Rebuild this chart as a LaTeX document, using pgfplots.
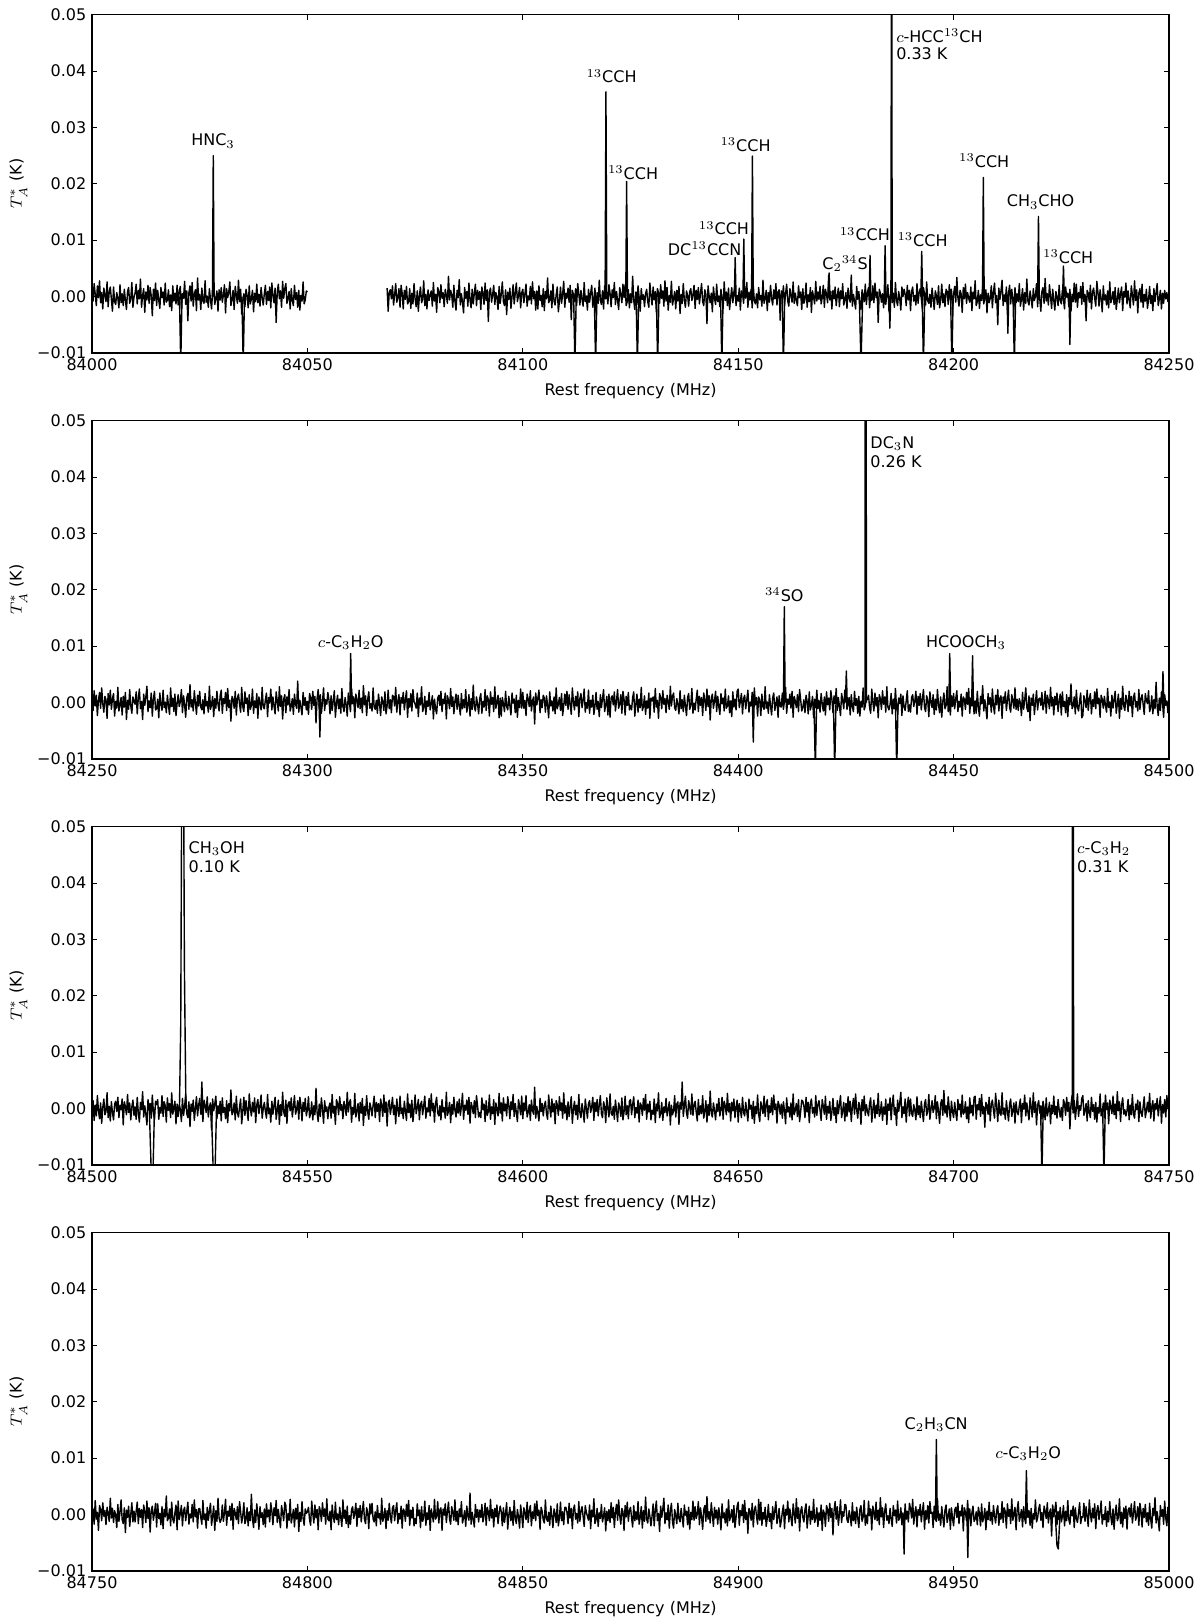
\documentclass[border=0pt]{standalone}
\usepackage{pgfplots}
\pgfplotsset{compat=1.18}
\usepackage{fontspec}
\setmainfont{DejaVu Sans}
\tikzset{
  lab/.style={inner sep=0pt, anchor=base},
  labw/.style={inner sep=0pt, anchor=base west},
}
\pgfplotsset{
  spec/.style={
    scale only axis, width=538.5pt, height=169.25pt,
    anchor=south west,
    ymin=-10, ymax=50,
    ytick={-10,0,10,20,30,40,50},
    yticklabels={−0.01,0.00,0.01,0.02,0.03,0.04,0.05},
    scaled x ticks=false, scaled y ticks=false,
    tick align=inside,
    major tick length=2.7pt,
    every tick/.style={black, line width=0.4pt},
    axis line style={line width=0.75pt},
    xlabel={Rest frequency (MHz)},
    ylabel={$T_A^{*}$ (K)},
    every axis x label/.style={at={(axis description cs:0.5,0)}, anchor=base, yshift=-21.3pt},
    every axis y label/.style={at={(axis description cs:-0.0684,0.5)}, anchor=center, rotate=90},
    unbounded coords=jump,
    clip=true,
  },
  spec line/.style={black, line width=0.7pt, mark=none, line join=round},
}
\begin{document}
\fontsize{8}{9.6}\selectfont
\begin{tikzpicture}
\path[use as bounding box] (0,0) rectangle (600pt,811pt);
% ---------------- Panel 1 ----------------
\begin{axis}[spec, at={(46pt,634.5pt)}, xmin=84000, xmax=84250,
  xtick={84000,84050,84100,84150,84200,84250},
  xticklabels={84000,84050,84100,84150,84200,84250}]
\addplot[spec line] table[header=false, x expr=84000+0.25*\coordindex, y index=0] {
1.2
-0.8
2.3
0.4
-1.6
1.9
-0.2
2.8
-1.1
0.7
-2.2
1.5
0.3
-0.9
2.6
-1.8
0.9
1.7
-0.5
-2.6
1.7
-0.9
-1.4
0.7
-0.3
-2.0
2.1
-1.1
0.5
-1.6
1.3
-0.6
-2.3
0.9
1.6
-1.2
-0.4
2.5
-1.9
-0.1
0.6
2.2
-1.3
1.1
-0.4
3.1
-1.9
0.2
1.4
-2.8
0.8
-0.6
2.0
-1.2
1.6
0.1
-3.4
1.3
-0.7
2.4
-1.6
1.1
-0.7
-2.1
1.6
-0.2
0.8
-1.5
2.4
-1.0
-0.6
1.2
-1.8
0.3
-2.5
1.9
-0.8
0.6
-1.3
2.0
-1.5
0.9
1.8
-2.1
0.5
-0.3
2.7
-1.4
1.0
-4.3
0.7
1.9
-0.8
2.5
-1.7
0.4
1.2
-2.5
3.3
-0.6
0.4
-2.3
1.5
-0.8
-1.2
2.8
-1.0
0.1
-1.9
1.4
-0.5
-2.2
0.8
1.7
-1.4
-0.3
1.0
-2.6
1.2
-0.6
1.6
-1.0
0.3
2.1
-2.9
1.4
-0.2
0.8
2.6
-1.6
-0.5
1.1
-2.3
1.8
0.2
-1.2
2.9
-0.9
1.3
-3.1
-0.8
0.5
-1.8
1.3
0.2
-2.0
1.9
-1.3
-0.4
1.1
-2.7
0.6
-0.9
2.2
-1.1
0.4
-1.7
1.6
-0.2
-1.5
0.5
2.0
-1.4
0.9
-0.7
1.7
-2.0
2.4
0.1
-1.1
1.5
-4.6
0.8
2.2
-0.4
1.0
-1.9
2.7
-0.3
1.4
2.3
-1.2
-0.3
0.9
-2.2
1.4
-0.7
-1.6
2.0
-0.5
0.7
-1.9
1.1
-2.4
0.2
-0.8
2.6
-1.3
-0.6
1.0
0.8
};
\addplot[spec line] table[header=false, x expr=84068.5+0.25*\coordindex, y index=0] {
1.5
-2.6
0.8
1.2
-0.4
1.9
-1.5
0.3
2.3
-1.0
-0.2
1.4
-1.9
2.0
0.6
-2.2
1.1
-0.5
1.8
-1.3
-0.9
1.4
-2.1
0.6
-1.3
2.3
-0.4
-1.8
1.0
-2.6
0.2
1.7
-1.1
-0.5
2.8
-1.6
0.4
-2.2
1.2
-0.7
0.3
1.0
-1.7
2.5
-0.8
0.4
-2.8
1.6
0.9
-1.1
2.1
-0.3
0.7
-1.8
1.3
0.2
-1.2
3.6
-0.6
1.1
0.3
-1.9
2.0
-0.8
-2.4
1.1
-0.2
3.0
-1.5
0.5
-1.0
-2.9
1.6
-0.3
0.9
-1.7
2.4
-0.6
-2.0
1.3
-1.3
0.6
2.2
-1.6
1.1
-0.5
0.9
-2.3
1.7
0.5
-1.4
2.4
-0.7
1.2
-4.4
0.8
1.5
-1.0
0.3
2.0
-1.4
0.7
-0.1
-2.3
1.8
-1.2
0.4
2.6
-0.9
-1.6
1.2
-3.2
0.8
-0.5
1.5
-2.1
0.0
2.1
-1.3
0.6
2.4
-0.9
0.2
1.6
-2.0
0.7
1.3
-1.1
0.5
2.2
-1.7
0.1
-0.6
1.8
-1.3
2.6
-0.4
0.9
-2.4
1.0
-2.2
1.9
-0.7
0.2
-1.8
1.4
-2.5
0.9
-0.4
3.3
-1.1
-0.6
1.0
-2.0
2.2
-0.8
-1.5
0.3
1.7
-2.7
-0.8
1.7
-1.2
0.4
2.7
-1.9
0.6
-0.3
1.5
-1.0
2.0
-4.1
1.1
0.3
-0.9
1.4
-1.6
2.3
0.5
-1.5
1.1
-0.5
-1.7
2.5
-0.9
0.1
-2.4
1.3
-1.0
0.6
2.0
-1.9
-0.3
1.5
-2.8
0.7
-1.2
2.9
-0.6
-1.4
1.0
-2.2
1.9
-0.4
0.8
-1.3
2.1
0.6
-1.8
1.2
-0.2
2.5
-1.4
0.9
-0.7
-2.3
1.6
0.4
-1.1
2.2
-0.2
2.1
-1.6
-0.9
1.2
-2.0
0.5
-1.1
3.6
-0.7
-2.3
0.8
-1.4
1.9
-0.1
-2.6
1.4
-0.5
0.3
-1.8
0.5
1.3
-0.9
-1.9
2.4
0.2
-1.5
1.7
-0.6
0.9
-2.7
1.4
0.7
-1.2
2.1
-0.3
1.0
-1.7
2.8
-0.8
1.6
-2.4
0.2
-1.0
2.7
-1.5
-0.4
0.9
-2.2
1.1
-0.8
1.8
-3.0
0.4
-1.2
2.3
-0.6
-1.9
1.0
0.2
-1.7
0.9
1.4
-0.7
0.3
2.0
-2.1
1.1
-0.5
1.6
-1.3
0.6
2.3
-0.9
-1.6
1.2
0.4
-4.8
1.9
0.1
-1.1
0.6
-2.7
1.7
-0.3
-1.4
2.2
-0.9
0.1
-1.8
1.3
-0.5
-2.1
2.6
-0.7
0.8
-1.6
1.5
-2.3
-0.2
1.6
-1.1
0.7
2.1
-1.6
0.2
-0.8
1.5
-2.4
1.0
0.6
-1.2
1.8
-0.3
2.5
-1.9
0.8
-0.6
1.3
-2.0
2.0
-0.8
-1.3
0.5
-2.0
1.6
-0.6
0.2
-1.7
2.9
-1.2
-0.4
1.1
-2.5
0.7
-1.0
2.0
-0.3
-1.5
1.2
-0.4
2.3
-1.5
0.8
1.2
-4.2
1.0
-0.1
1.9
-1.4
0.5
2.2
-0.8
-1.7
1.4
0.3
-1.0
2.6
-1.2
0.6
-0.7
-1.6
1.9
-0.2
0.8
-2.3
1.4
-1.2
-0.5
2.4
-1.9
0.3
-0.9
1.6
-2.8
1.0
-0.1
-1.3
2.7
-0.8
0.8
-0.5
1.8
-1.3
-0.2
2.0
-1.9
1.3
0.4
-1.1
3.8
-0.6
0.9
-2.2
1.1
-0.4
1.7
-1.6
0.2
1.5
-1.8
1.0
-0.4
2.3
-1.5
-0.6
0.7
-2.1
1.5
-0.3
-1.0
3.8
-1.7
0.4
-0.8
-2.2
1.8
-0.5
0.9
-1.3
-2.3
1.2
0.3
-0.9
2.2
-1.4
0.7
1.6
-2.0
0.5
-0.7
1.9
-1.1
2.4
-0.2
0.8
-4.6
1.3
0.6
-1.0
0.5
-2.0
1.2
-1.4
0.3
2.1
-2.6
-0.1
1.3
-1.1
0.6
-1.9
2.5
-0.7
-1.6
0.9
-0.4
-2.4
1.7
0.0
1.3
0.4
-1.6
2.0
-0.6
1.1
-2.5
0.9
1.7
-0.8
0.2
-1.5
2.3
-1.2
0.7
1.4
-0.3
-2.1
1.6
0.4
-1.5
2.6
-0.8
-1.2
0.4
-1.9
1.5
-0.3
-2.3
1.0
0.2
-1.4
1.9
-2.0
-0.6
2.2
-1.1
0.5
-1.8
1.3
0.9
-1.4
2.1
-0.6
1.3
-2.3
0.4
1.8
-1.0
3.4
-0.2
-1.7
1.1
0.5
-2.8
1.6
-0.4
2.2
-1.2
0.7
-0.3
-1.0
1.7
-2.5
0.8
-0.4
2.8
-1.6
-0.9
1.1
-2.1
0.3
-0.7
1.8
-1.3
-0.2
1.2
-2.9
0.6
-1.1
-0.3
1.9
-2.0
0.8
2.4
-1.1
0.2
-5.0
1.5
-0.5
1.0
2.9
-1.6
0.3
-0.9
1.7
-2.4
0.6
2.0
-1.3
1.3
-0.6
-2.2
1.6
-1.1
0.5
-0.9
2.3
-1.7
-0.5
1.4
-2.4
0.7
-1.2
3.1
-0.8
-1.5
1.0
-0.3
-2.0
1.4
-0.7
0.1
2.3
-1.8
1.2
-0.4
-2.6
0.9
1.6
-1.2
3.2
-0.8
0.5
-1.5
2.1
0.0
-2.1
1.3
-0.6
-2.4
0.9
-0.2
-1.6
2.0
-0.7
-1.3
1.1
-0.5
-2.2
1.7
-0.1
0.6
-1.8
1.3
-2.6
0.4
-0.9
2.4
-1.0
2.2
-1.9
0.7
-0.2
1.8
-1.4
2.5
-0.9
0.4
-4.3
1.1
0.6
-1.0
2.0
-2.2
0.8
1.5
-0.3
-1.7
2.7
0.8
-1.7
1.2
-0.4
-2.7
1.9
-0.6
0.3
-1.5
1.0
-2.0
2.6
-1.1
-0.3
0.9
-1.4
1.6
-2.3
-0.5
1.5
-1.1
0.5
1.7
-2.5
0.9
-0.1
2.4
-1.3
1.0
-0.6
-2.0
1.9
0.3
-1.5
2.8
-0.7
1.2
-2.9
0.6
1.4
-1.0
2.2
-1.9
0.4
-0.8
1.3
-2.1
-0.6
1.8
-1.2
0.2
-2.5
1.4
-0.9
0.7
2.3
-1.6
-0.4
1.1
-2.2
0.6
-1.2
1.1
-0.4
0.7
-0.9
0.3
};
\addplot[spec line] coordinates {
(84020.3,0)(84020.6,-12)(84020.9,0)(84020.6,nan)
(84027.95,0)(84028.15,25.0)(84028.35,0)(84028.15,nan)
(84034.8,0)(84035.1,-12)(84035.4,0)(84035.1,nan)
(84111.8,0)(84112.1,-12)(84112.4,0)(84112.1,nan)
(84116.6,0)(84116.9,-12)(84117.2,0)(84116.9,nan)
(84119.1,0)(84119.3,36.3)(84119.5,0)(84119.3,nan)
(84123.9,0)(84124.1,20.4)(84124.3,0)(84124.1,nan)
(84126.3,0)(84126.6,-12)(84126.9,0)(84126.6,nan)
(84131.0,0)(84131.3,-12)(84131.6,0)(84131.3,nan)
(84145.9,0)(84146.2,-12)(84146.5,0)(84146.2,nan)
(84149.1,0)(84149.3,6.9)(84149.5,0)(84149.3,nan)
(84151.1,0)(84151.3,10.2)(84151.5,0)(84151.3,nan)
(84153.1,0)(84153.3,24.9)(84153.5,0)(84153.3,nan)
(84160.2,0)(84160.5,-12)(84160.8,0)(84160.5,nan)
(84170.9,0)(84171.1,4.2)(84171.3,0)(84171.1,nan)
(84178.1,0)(84178.5,-12)(84178.9,0)(84178.5,nan)
(84180.4,0)(84180.6,7.3)(84180.8,0)(84180.6,nan)
(84183.9,0)(84184.1,9.0)(84184.3,0)(84184.1,nan)
(84185.0,0)(84185.2,-5.6)(84185.4,0)(84185.2,nan)
(84185.45,0)(84185.6,80)(84185.75,0)(84185.6,nan)
(84192.4,0)(84192.6,8.0)(84192.8,0)(84192.6,nan)
(84192.7,0)(84193.0,-12)(84193.3,0)(84193.0,nan)
(84199.3,0)(84199.6,-12)(84199.9,0)(84199.6,nan)
(84206.7,0)(84206.9,21.1)(84207.1,0)(84206.9,nan)
(84212.4,0)(84212.6,-6.5)(84212.8,0)(84212.6,nan)
(84213.8,0)(84214.1,-12)(84214.4,0)(84214.1,nan)
(84219.5,0)(84219.7,14.2)(84219.9,0)(84219.7,nan)
(84225.3,0)(84225.5,5.4)(84225.7,0)(84225.5,nan)
(84226.8,0)(84227.0,-8.5)(84227.2,0)(84227.0,nan)
};
\node[lab] at (axis cs:84028.1,26.7) {HNC$_3$};
\node[lab] at (axis cs:84120.6,37.9) {$^{13}$CCH};
\node[lab] at (axis cs:84125.6,20.8) {$^{13}$CCH};
\node[lab] at (axis cs:84146.7,10.95) {$^{13}$CCH};
\node[lab] at (axis cs:84142.2,7.36) {DC$^{13}$CCN};
\node[lab] at (axis cs:84151.7,25.8) {$^{13}$CCH};
\node[lab] at (axis cs:84174.8,4.87) {C$_2$$^{34}$S};
\node[lab] at (axis cs:84179.4,9.89) {$^{13}$CCH};
\node[labw] at (axis cs:84186.6,45.1) {$c$-HCC$^{13}$CH};
\node[labw] at (axis cs:84186.6,42.1) {0.33 K};
\node[lab] at (axis cs:84192.8,8.88) {$^{13}$CCH};
\node[lab] at (axis cs:84207.1,22.9) {$^{13}$CCH};
\node[lab] at (axis cs:84220.2,15.9) {CH$_3$CHO};
\node[lab] at (axis cs:84226.6,5.94) {$^{13}$CCH};
\end{axis}
% ---------------- Panel 2 ----------------
\begin{axis}[spec, at={(46pt,431.5pt)}, xmin=84250, xmax=84500,
  xtick={84250,84300,84350,84400,84450,84500},
  xticklabels={84250,84300,84350,84400,84450,84500}]
\addplot[spec line] table[header=false, x expr=84250+0.25*\coordindex, y index=0] {
0.9
-1.4
2.1
-0.6
1.3
-2.3
0.4
1.8
-1.0
2.6
-0.2
-1.7
1.1
0.5
-2.8
1.6
-0.4
2.2
-1.2
0.7
1.6
-2.4
0.2
-1.0
2.7
-1.5
-0.4
0.9
-2.2
1.1
-0.8
1.8
-3.0
0.4
-1.2
2.3
-0.6
-1.9
1.0
0.2
-0.3
1.9
-2.0
0.8
2.4
-1.1
0.2
-3.0
1.5
-0.5
1.0
2.9
-1.6
0.3
-0.9
1.7
-2.4
0.6
2.0
-1.3
-1.1
0.6
-2.7
1.7
-0.3
-1.4
2.2
-0.9
0.1
-1.8
1.3
-0.5
-2.1
2.6
-0.7
0.8
-1.6
1.5
-2.3
-0.2
1.4
-0.7
0.1
2.3
-1.8
1.2
-0.4
-2.6
0.9
1.6
-1.2
3.2
-0.8
0.5
-1.5
2.1
0.0
-2.1
1.3
-0.6
2.0
-0.8
-1.3
0.5
-2.0
1.6
-0.6
0.2
-1.7
2.9
-1.2
-0.4
1.1
-2.5
0.7
-1.0
2.0
-0.3
-1.5
1.2
2.2
-1.9
0.7
-0.2
1.8
-1.4
2.5
-0.9
0.4
-3.3
1.1
0.6
-1.0
2.0
-2.2
0.8
1.5
-0.3
-1.7
2.7
-0.7
-1.6
1.9
-0.2
0.8
-2.3
1.4
-1.2
-0.5
2.4
-1.9
0.3
-0.9
1.6
-2.8
1.0
-0.1
-1.3
2.7
-0.8
-1.1
0.5
1.7
-2.5
0.9
-0.1
2.4
-1.3
1.0
-0.6
-2.0
1.9
0.3
-1.5
2.8
-0.7
1.2
-2.9
0.6
1.4
-1.8
1.0
-0.4
2.3
-1.5
-0.6
0.7
-2.1
1.5
-0.3
-1.0
3.8
-1.7
0.4
-0.8
-2.2
1.8
-0.5
0.9
-1.3
0.2
-2.1
1.6
0.9
-1.2
2.0
-0.5
1.1
-3.6
0.7
2.3
-0.8
1.4
-1.9
0.1
2.6
-1.4
0.5
-0.3
1.8
0.5
-2.0
1.2
-1.4
0.3
2.1
-2.6
-0.1
1.3
-1.1
0.6
-1.9
2.5
-0.7
-1.6
0.9
-0.4
-2.4
1.7
0.0
-1.6
2.4
-0.2
1.0
-2.7
1.5
0.4
-0.9
2.2
-1.1
0.8
-1.8
3.0
-0.4
1.2
-2.3
0.6
1.9
-1.0
-0.2
-1.5
2.6
-0.8
-1.2
0.4
-1.9
1.5
-0.3
-2.3
1.0
0.2
-1.4
1.9
-2.0
-0.6
2.2
-1.1
0.5
-1.8
1.3
1.1
-0.6
2.7
-1.7
0.3
1.4
-2.2
0.9
-0.1
1.8
-1.3
0.5
2.1
-2.6
0.7
-0.8
1.6
-1.5
2.3
0.2
-0.3
-1.0
1.7
-2.5
0.8
-0.4
2.8
-1.6
-0.9
1.1
-2.1
0.3
-0.7
1.8
-1.3
-0.2
1.2
-2.9
0.6
-1.1
-2.0
0.8
1.3
-0.5
2.0
-1.6
0.6
-0.2
1.7
-2.9
1.2
0.4
-1.1
2.5
-0.7
1.0
-2.0
0.3
1.5
-1.2
1.3
-0.6
-2.2
1.6
-1.1
0.5
-0.9
2.3
-1.7
-0.5
1.4
-2.4
0.7
-1.2
3.1
-0.8
-1.5
1.0
-0.3
-2.0
0.7
1.6
-1.9
0.2
-0.8
2.3
-1.4
1.2
0.5
-2.4
1.9
-0.3
0.9
-1.6
2.8
-1.0
0.1
1.3
-2.7
0.8
-2.4
0.9
-0.2
-1.6
2.0
-0.7
-1.3
1.1
-0.5
-2.2
1.7
-0.1
0.6
-1.8
1.3
-2.6
0.4
-0.9
2.4
-1.0
1.8
-1.0
0.4
-2.3
1.5
0.6
-0.7
2.1
-1.5
0.3
1.0
-3.8
1.7
-0.4
0.8
2.2
-1.8
0.5
-0.9
1.3
0.8
-1.7
1.2
-0.4
-2.7
1.9
-0.6
0.3
-1.5
1.0
-2.0
2.6
-1.1
-0.3
0.9
-1.4
1.6
-2.3
-0.5
1.5
-0.5
2.0
-1.2
1.4
-0.3
-2.1
2.6
0.1
-1.3
1.1
-0.6
1.9
-2.5
0.7
1.6
-0.9
0.4
2.4
-1.7
0.0
-1.0
2.2
-1.9
0.4
-0.8
1.3
-2.1
-0.6
1.8
-1.2
0.2
-2.5
1.4
-0.9
0.7
2.3
-1.6
-0.4
1.1
-2.2
1.5
-2.6
0.8
1.2
-0.4
1.9
-1.5
0.3
2.3
-1.0
-0.2
1.4
-1.9
2.0
0.6
-2.2
1.1
-0.5
1.8
-1.3
-0.5
-1.3
0.9
1.9
-2.4
-0.2
1.5
-1.7
0.6
-0.9
2.7
-1.4
-0.7
1.2
-2.1
0.3
-1.0
1.7
-2.8
0.8
0.3
1.0
-1.7
2.5
-0.8
0.4
-2.8
1.6
0.9
-1.1
2.1
-0.3
0.7
-1.8
1.3
0.2
-1.2
2.9
-0.6
1.1
1.7
-0.9
-1.4
0.7
-0.3
-2.0
2.1
-1.1
0.5
-1.6
1.3
-0.6
-2.3
0.9
1.6
-1.2
-0.4
2.5
-1.9
-0.1
-1.3
0.6
2.2
-1.6
1.1
-0.5
0.9
-2.3
1.7
0.5
-1.4
2.4
-0.7
1.2
-3.1
0.8
1.5
-1.0
0.3
2.0
-1.6
1.1
-0.7
-2.1
1.6
-0.2
0.8
-1.5
2.4
-1.0
-0.6
1.2
-1.8
0.3
-2.5
1.9
-0.8
0.6
-1.3
2.0
2.4
-0.9
0.2
1.6
-2.0
0.7
1.3
-1.1
0.5
2.2
-1.7
0.1
-0.6
1.8
-1.3
2.6
-0.4
0.9
-2.4
1.0
0.4
-2.3
1.5
-0.8
-1.2
2.8
-1.0
0.1
-1.9
1.4
-0.5
-2.2
0.8
1.7
-1.4
-0.3
1.0
-2.6
1.2
-0.6
-0.8
1.7
-1.2
0.4
2.7
-1.9
0.6
-0.3
1.5
-1.0
2.0
-2.6
1.1
0.3
-0.9
1.4
-1.6
2.3
0.5
-1.5
-0.8
0.5
-1.8
1.3
0.2
-2.0
1.9
-1.3
-0.4
1.1
-2.7
0.6
-0.9
2.2
-1.1
0.4
-1.7
1.6
-0.2
-1.5
1.0
-2.2
1.9
-0.4
0.8
-1.3
2.1
0.6
-1.8
1.2
-0.2
2.5
-1.4
0.9
-0.7
-2.3
1.6
0.4
-1.1
2.2
2.3
-1.2
-0.3
0.9
-2.2
1.4
-0.7
-1.6
2.0
-0.5
0.7
-1.9
1.1
-2.4
0.2
-0.8
2.6
-1.3
-0.6
1.0
0.5
1.3
-0.9
-1.9
2.4
0.2
-1.5
1.7
-0.6
0.9
-2.7
1.4
0.7
-1.2
2.1
-0.3
1.0
-1.7
2.8
-0.8
-1.3
-0.4
1.6
-2.0
0.6
-1.1
2.5
-0.9
-1.7
0.8
-0.2
1.5
-2.3
1.2
-0.7
-1.4
0.3
2.1
-1.6
-0.4
-1.7
0.9
1.4
-0.7
0.3
2.0
-2.1
1.1
-0.5
1.6
-1.3
0.6
2.3
-0.9
-1.6
1.2
0.4
-2.5
1.9
0.1
-0.9
1.4
-2.1
0.6
-1.3
2.3
-0.4
-1.8
1.0
-2.6
0.2
1.7
-1.1
-0.5
2.8
-1.6
0.4
-2.2
1.2
-0.7
1.6
-1.1
0.7
2.1
-1.6
0.2
-0.8
1.5
-2.4
1.0
0.6
-1.2
1.8
-0.3
2.5
-1.9
0.8
-0.6
1.3
-2.0
0.3
-1.9
2.0
-0.8
-2.4
1.1
-0.2
3.0
-1.5
0.5
-1.0
-2.9
1.6
-0.3
0.9
-1.7
2.4
-0.6
-2.0
1.3
-0.4
2.3
-1.5
0.8
1.2
-2.8
1.0
-0.1
1.9
-1.4
0.5
2.2
-0.8
-1.7
1.4
0.3
-1.0
2.6
-1.2
0.6
-1.4
0.7
-0.1
-2.3
1.8
-1.2
0.4
2.6
-0.9
-1.6
1.2
-3.2
0.8
-0.5
1.5
-2.1
0.0
2.1
-1.3
0.6
0.8
-0.5
1.8
-1.3
-0.2
2.0
-1.9
1.3
0.4
-1.1
2.7
-0.6
0.9
-2.2
1.1
-0.4
1.7
-1.6
0.2
1.5
-2.2
1.9
-0.7
0.2
-1.8
1.4
-2.5
0.9
-0.4
3.3
-1.1
-0.6
1.0
-2.0
2.2
-0.8
-1.5
0.3
1.7
-2.7
-2.3
1.2
0.3
-0.9
2.2
-1.4
0.7
1.6
-2.0
0.5
-0.7
1.9
-1.1
2.4
-0.2
0.8
-2.6
1.3
0.6
-1.0
1.1
-0.5
-1.7
2.5
-0.9
0.1
-2.4
1.3
-1.0
0.6
2.0
-1.9
-0.3
1.5
-2.8
0.7
-1.2
2.9
-0.6
-1.4
1.3
0.4
-1.6
2.0
-0.6
1.1
-2.5
0.9
1.7
-0.8
0.2
-1.5
2.3
-1.2
0.7
1.4
-0.3
-2.1
1.6
0.4
-0.2
2.1
-1.6
-0.9
1.2
-2.0
0.5
-1.1
3.6
-0.7
-2.3
0.8
-1.4
1.9
-0.1
-2.6
1.4
-0.5
0.3
-1.8
0.9
};
\addplot[spec line] coordinates {
(84302.7,0)(84302.9,-6.1)(84303.1,0)(84302.9,nan)
(84309.85,0)(84310.05,8.7)(84310.25,0)(84310.05,nan)
(84403.3,0)(84403.5,-7.0)(84403.7,0)(84403.5,nan)
(84410.5,0)(84410.7,17.0)(84410.9,0)(84410.7,nan)
(84417.6,0)(84417.9,-12)(84418.2,0)(84417.9,nan)
(84422.1,0)(84422.4,-12)(84422.7,0)(84422.4,nan)
(84424.9,0)(84425.1,5.6)(84425.3,0)(84425.1,nan)
(84429.45,0)(84429.6,300)(84429.75,0)(84429.6,nan)
(84436.5,0)(84436.8,-12)(84437.1,0)(84436.8,nan)
(84448.9,0)(84449.1,8.7)(84449.3,0)(84449.1,nan)
(84454.2,0)(84454.4,8.3)(84454.6,0)(84454.4,nan)
(84498.4,0)(84498.6,5.5)(84498.8,0)(84498.6,nan)
};
\node[lab] at (axis cs:84310.05,9.8) {$c$-C$_3$H$_2$O};
\node[lab] at (axis cs:84410.7,17.9) {$^{34}$SO};
\node[labw] at (axis cs:84430.6,45.0) {DC$_3$N};
\node[labw] at (axis cs:84430.6,41.7) {0.26 K};
\node[lab] at (axis cs:84452.9,9.8) {HCOOCH$_3$};
\end{axis}
% ---------------- Panel 3 ----------------
\begin{axis}[spec, at={(46pt,228.5pt)}, xmin=84500, xmax=84750,
  xtick={84500,84550,84600,84650,84700,84750},
  xticklabels={84500,84550,84600,84650,84700,84750}]
\addplot[spec line] table[header=false, x expr=84500+0.25*\coordindex, y index=0] {
-0.9
1.4
-2.1
0.6
-1.3
2.3
-0.4
-1.8
1.0
-2.6
0.2
1.7
-1.1
-0.5
2.8
-1.6
0.4
-2.2
1.2
-0.7
-2.0
0.8
1.3
-0.5
2.0
-1.6
0.6
-0.2
1.7
-2.9
1.2
0.4
-1.1
2.5
-0.7
1.0
-2.0
0.3
1.5
-1.2
0.3
-1.9
2.0
-0.8
-2.4
1.1
-0.2
3.0
-1.5
0.5
-1.0
-2.9
1.6
-0.3
0.9
-1.7
2.4
-0.6
-2.0
1.3
0.7
1.6
-1.9
0.2
-0.8
2.3
-1.4
1.2
0.5
-2.4
1.9
-0.3
0.9
-1.6
2.8
-1.0
0.1
1.3
-2.7
0.8
-1.4
0.7
-0.1
-2.3
1.8
-1.2
0.4
2.6
-0.9
-1.6
1.2
-3.2
0.8
-0.5
1.5
-2.1
0.0
2.1
-1.3
0.6
1.8
-1.0
0.4
-2.3
1.5
0.6
-0.7
2.1
-1.5
0.3
1.0
-3.8
1.7
-0.4
0.8
2.2
-1.8
0.5
-0.9
1.3
-2.2
1.9
-0.7
0.2
-1.8
1.4
-2.5
0.9
-0.4
3.3
-1.1
-0.6
1.0
-2.0
2.2
-0.8
-1.5
0.3
1.7
-2.7
-0.5
2.0
-1.2
1.4
-0.3
-2.1
2.6
0.1
-1.3
1.1
-0.6
1.9
-2.5
0.7
1.6
-0.9
0.4
2.4
-1.7
0.0
1.1
-0.5
-1.7
2.5
-0.9
0.1
-2.4
1.3
-1.0
0.6
2.0
-1.9
-0.3
1.5
-2.8
0.7
-1.2
2.9
-0.6
-1.4
1.5
-2.6
0.8
1.2
-0.4
1.9
-1.5
0.3
2.3
-1.0
-0.2
1.4
-1.9
2.0
0.6
-2.2
1.1
-0.5
1.8
-1.3
-0.2
2.1
-1.6
-0.9
1.2
-2.0
0.5
-1.1
3.6
-0.7
-2.3
0.8
-1.4
1.9
-0.1
-2.6
1.4
-0.5
0.3
-1.8
0.3
1.0
-1.7
2.5
-0.8
0.4
-2.8
1.6
0.9
-1.1
2.1
-0.3
0.7
-1.8
1.3
0.2
-1.2
2.9
-0.6
1.1
1.6
-2.4
0.2
-1.0
2.7
-1.5
-0.4
0.9
-2.2
1.1
-0.8
1.8
-3.0
0.4
-1.2
2.3
-0.6
-1.9
1.0
0.2
-1.3
0.6
2.2
-1.6
1.1
-0.5
0.9
-2.3
1.7
0.5
-1.4
2.4
-0.7
1.2
-3.1
0.8
1.5
-1.0
0.3
2.0
-1.1
0.6
-2.7
1.7
-0.3
-1.4
2.2
-0.9
0.1
-1.8
1.3
-0.5
-2.1
2.6
-0.7
0.8
-1.6
1.5
-2.3
-0.2
2.4
-0.9
0.2
1.6
-2.0
0.7
1.3
-1.1
0.5
2.2
-1.7
0.1
-0.6
1.8
-1.3
2.6
-0.4
0.9
-2.4
1.0
2.0
-0.8
-1.3
0.5
-2.0
1.6
-0.6
0.2
-1.7
2.9
-1.2
-0.4
1.1
-2.5
0.7
-1.0
2.0
-0.3
-1.5
1.2
-0.8
1.7
-1.2
0.4
2.7
-1.9
0.6
-0.3
1.5
-1.0
2.0
-2.6
1.1
0.3
-0.9
1.4
-1.6
2.3
0.5
-1.5
-0.7
-1.6
1.9
-0.2
0.8
-2.3
1.4
-1.2
-0.5
2.4
-1.9
0.3
-0.9
1.6
-2.8
1.0
-0.1
-1.3
2.7
-0.8
1.0
-2.2
1.9
-0.4
0.8
-1.3
2.1
0.6
-1.8
1.2
-0.2
2.5
-1.4
0.9
-0.7
-2.3
1.6
0.4
-1.1
2.2
-1.8
1.0
-0.4
2.3
-1.5
-0.6
0.7
-2.1
1.5
-0.3
-1.0
3.8
-1.7
0.4
-0.8
-2.2
1.8
-0.5
0.9
-1.3
0.5
1.3
-0.9
-1.9
2.4
0.2
-1.5
1.7
-0.6
0.9
-2.7
1.4
0.7
-1.2
2.1
-0.3
1.0
-1.7
2.8
-0.8
0.5
-2.0
1.2
-1.4
0.3
2.1
-2.6
-0.1
1.3
-1.1
0.6
-1.9
2.5
-0.7
-1.6
0.9
-0.4
-2.4
1.7
0.0
-1.7
0.9
1.4
-0.7
0.3
2.0
-2.1
1.1
-0.5
1.6
-1.3
0.6
2.3
-0.9
-1.6
1.2
0.4
-2.5
1.9
0.1
-1.5
2.6
-0.8
-1.2
0.4
-1.9
1.5
-0.3
-2.3
1.0
0.2
-1.4
1.9
-2.0
-0.6
2.2
-1.1
0.5
-1.8
1.3
1.6
-1.1
0.7
2.1
-1.6
0.2
-0.8
1.5
-2.4
1.0
0.6
-1.2
1.8
-0.3
2.5
-1.9
0.8
-0.6
1.3
-2.0
-0.3
-1.0
1.7
-2.5
0.8
-0.4
2.8
-1.6
-0.9
1.1
-2.1
0.3
-0.7
1.8
-1.3
-0.2
1.2
-2.9
0.6
-1.1
-0.4
2.3
-1.5
0.8
1.2
-2.8
1.0
-0.1
4.7
-1.4
0.5
2.2
-0.8
-1.7
1.4
0.3
-1.0
2.6
-1.2
0.6
1.3
-0.6
-2.2
1.6
-1.1
0.5
-0.9
2.3
-1.7
-0.5
1.4
-2.4
0.7
-1.2
3.1
-0.8
-1.5
1.0
-0.3
-2.0
0.8
-0.5
1.8
-1.3
-0.2
2.0
-1.9
1.3
0.4
-1.1
2.7
-0.6
0.9
-2.2
1.1
-0.4
1.7
-1.6
0.2
1.5
-2.4
0.9
-0.2
-1.6
2.0
-0.7
-1.3
1.1
-0.5
-2.2
1.7
-0.1
0.6
-1.8
1.3
-2.6
0.4
-0.9
2.4
-1.0
-2.3
1.2
0.3
-0.9
2.2
-1.4
0.7
1.6
-2.0
0.5
-0.7
1.9
-1.1
2.4
-0.2
0.8
-2.6
1.3
0.6
-1.0
0.8
-1.7
1.2
-0.4
-2.7
1.9
-0.6
0.3
-1.5
1.0
-2.0
2.6
-1.1
-0.3
0.9
-1.4
1.6
-2.3
-0.5
1.5
1.3
0.4
-1.6
2.0
-0.6
1.1
-2.5
0.9
1.7
-0.8
0.2
-1.5
2.3
-1.2
0.7
1.4
-0.3
-2.1
1.6
0.4
-1.0
2.2
-1.9
0.4
-0.8
1.3
-2.1
-0.6
1.8
-1.2
0.2
-2.5
1.4
-0.9
0.7
2.3
-1.6
-0.4
1.1
-2.2
0.9
-1.4
2.1
-0.6
1.3
-2.3
0.4
1.8
-1.0
2.6
-0.2
-1.7
1.1
0.5
-2.8
1.6
-0.4
2.2
-1.2
0.7
-0.5
-1.3
0.9
1.9
-2.4
-0.2
1.5
-1.7
0.6
-0.9
2.7
-1.4
-0.7
1.2
-2.1
0.3
-1.0
1.7
-2.8
0.8
-0.3
1.9
-2.0
0.8
2.4
-1.1
0.2
-3.0
1.5
-0.5
1.0
2.9
-1.6
0.3
-0.9
1.7
-2.4
0.6
2.0
-1.3
1.7
-0.9
-1.4
0.7
-0.3
-2.0
2.1
-1.1
0.5
-1.6
1.3
-0.6
-2.3
0.9
1.6
-1.2
-0.4
2.5
-1.9
-0.1
1.4
-0.7
0.1
2.3
-1.8
1.2
-0.4
-2.6
0.9
1.6
-1.2
3.2
-0.8
0.5
-1.5
2.1
0.0
-2.1
1.3
-0.6
-1.6
1.1
-0.7
-2.1
1.6
-0.2
0.8
-1.5
2.4
-1.0
-0.6
1.2
-1.8
0.3
-2.5
1.9
-0.8
0.6
-1.3
2.0
2.2
-1.9
0.7
-0.2
1.8
-1.4
2.5
-0.9
0.4
-3.3
1.1
0.6
-1.0
2.0
-2.2
0.8
1.5
-0.3
-1.7
2.7
0.4
-2.3
1.5
-0.8
-1.2
2.8
-1.0
0.1
-1.9
1.4
-0.5
-2.2
0.8
1.7
-1.4
-0.3
1.0
-2.6
1.2
-0.6
-1.1
0.5
1.7
-2.5
0.9
-0.1
2.4
-1.3
1.0
-0.6
-2.0
1.9
0.3
-1.5
2.8
-0.7
1.2
-2.9
0.6
1.4
-0.8
0.5
-1.8
1.3
0.2
-2.0
1.9
-1.3
-0.4
1.1
-2.7
0.6
-0.9
2.2
-1.1
0.4
-1.7
1.6
-0.2
-1.5
0.2
-2.1
1.6
0.9
-1.2
2.0
-0.5
1.1
-3.6
0.7
2.3
-0.8
1.4
-1.9
0.1
2.6
-1.4
0.5
-0.3
1.8
2.3
-1.2
-0.3
0.9
-2.2
1.4
-0.7
-1.6
2.0
-0.5
0.7
-1.9
1.1
-2.4
0.2
-0.8
2.6
-1.3
-0.6
1.0
-1.6
2.4
-0.2
1.0
-2.7
1.5
0.4
-0.9
2.2
-1.1
0.8
-1.8
3.0
-0.4
1.2
-2.3
0.6
1.9
-1.0
-0.2
-1.3
-0.4
1.6
-2.0
0.6
-1.1
2.5
-0.9
-1.7
0.8
-0.2
1.5
-2.3
1.2
-0.7
-1.4
0.3
2.1
-1.6
-0.4
1.1
-0.6
2.7
-1.7
0.3
1.4
-2.2
0.9
-0.1
1.8
-1.3
0.5
2.1
-2.6
0.7
-0.8
1.6
-1.5
2.3
0.2
-0.5
};
\addplot[spec line] coordinates {
(84513.3,0)(84513.7,-10)(84513.9,-15)(84514.2,-10)(84514.5,0)(84513.9,nan)
(84520.3,0)(84520.6,15)(84521.05,100)(84521.45,25)(84521.8,0)(84521.05,nan)
(84525.3,0)(84525.5,4.7)(84525.7,0)(84525.5,nan)
(84527.7,0)(84528.1,-10)(84528.3,-15)(84528.6,-10)(84528.9,0)(84528.3,nan)
(84720.2,0)(84720.5,-12)(84720.8,0)(84720.5,nan)
(84727.55,0)(84727.7,310)(84727.85,0)(84727.7,nan)
(84734.6,0)(84734.9,-12)(84735.2,0)(84734.9,nan)
};
\node[labw] at (axis cs:84522.35,45.2) {CH$_3$OH};
\node[labw] at (axis cs:84522.35,41.8) {0.10 K};
\node[labw] at (axis cs:84728.6,45.2) {$c$-C$_3$H$_2$};
\node[labw] at (axis cs:84728.6,41.8) {0.31 K};
\end{axis}
% ---------------- Panel 4 ----------------
\begin{axis}[spec, at={(46pt,25.5pt)}, xmin=84750, xmax=85000,
  xtick={84750,84800,84850,84900,84950,85000},
  xticklabels={84750,84800,84850,84900,84950,85000}]
\addplot[spec line] table[header=false, x expr=84750+0.25*\coordindex, y index=0] {
0.3
1.0
-1.7
2.5
-0.8
0.4
-2.8
1.6
0.9
-1.1
2.1
-0.3
0.7
-1.8
1.3
0.2
-1.2
2.9
-0.6
1.1
-1.4
0.7
-0.1
-2.3
1.8
-1.2
0.4
2.6
-0.9
-1.6
1.2
-3.2
0.8
-0.5
1.5
-2.1
0.0
2.1
-1.3
0.6
-1.3
0.6
2.2
-1.6
1.1
-0.5
0.9
-2.3
1.7
0.5
-1.4
2.4
-0.7
1.2
-3.1
0.8
1.5
-1.0
0.3
2.0
-2.2
1.9
-0.7
0.2
-1.8
1.4
-2.5
0.9
-0.4
3.3
-1.1
-0.6
1.0
-2.0
2.2
-0.8
-1.5
0.3
1.7
-2.7
2.4
-0.9
0.2
1.6
-2.0
0.7
1.3
-1.1
0.5
2.2
-1.7
0.1
-0.6
1.8
-1.3
2.6
-0.4
0.9
-2.4
1.0
1.1
-0.5
-1.7
2.5
-0.9
0.1
-2.4
1.3
-1.0
0.6
2.0
-1.9
-0.3
1.5
-2.8
0.7
-1.2
2.9
-0.6
-1.4
-0.8
1.7
-1.2
0.4
2.7
-1.9
0.6
-0.3
1.5
-1.0
2.0
-2.6
1.1
0.3
-0.9
1.4
-1.6
2.3
0.5
-1.5
-0.2
2.1
-1.6
-0.9
1.2
-2.0
0.5
-1.1
3.6
-0.7
-2.3
0.8
-1.4
1.9
-0.1
-2.6
1.4
-0.5
0.3
-1.8
1.0
-2.2
1.9
-0.4
0.8
-1.3
2.1
0.6
-1.8
1.2
-0.2
2.5
-1.4
0.9
-0.7
-2.3
1.6
0.4
-1.1
2.2
1.6
-2.4
0.2
-1.0
2.7
-1.5
-0.4
0.9
-2.2
1.1
-0.8
1.8
-3.0
0.4
-1.2
2.3
-0.6
-1.9
1.0
0.2
0.5
1.3
-0.9
-1.9
2.4
0.2
-1.5
1.7
-0.6
0.9
-2.7
1.4
0.7
-1.2
2.1
-0.3
1.0
-1.7
2.8
-0.8
-1.1
0.6
-2.7
1.7
-0.3
-1.4
2.2
-0.9
0.1
-1.8
1.3
-0.5
-2.1
2.6
-0.7
0.8
-1.6
1.5
-2.3
-0.2
-1.7
0.9
1.4
-0.7
0.3
2.0
-2.1
1.1
-0.5
1.6
-1.3
0.6
2.3
-0.9
-1.6
1.2
0.4
-2.5
1.9
0.1
2.0
-0.8
-1.3
0.5
-2.0
1.6
-0.6
0.2
-1.7
2.9
-1.2
-0.4
1.1
-2.5
0.7
-1.0
2.0
-0.3
-1.5
1.2
1.6
-1.1
0.7
2.1
-1.6
0.2
-0.8
1.5
-2.4
1.0
0.6
-1.2
1.8
-0.3
2.5
-1.9
0.8
-0.6
1.3
-2.0
-0.7
-1.6
1.9
-0.2
0.8
-2.3
1.4
-1.2
-0.5
2.4
-1.9
0.3
-0.9
1.6
-2.8
1.0
-0.1
-1.3
2.7
-0.8
-0.4
2.3
-1.5
0.8
1.2
-2.8
1.0
-0.1
1.9
-1.4
0.5
2.2
-0.8
-1.7
1.4
0.3
-1.0
2.6
-1.2
0.6
-1.8
1.0
-0.4
2.3
-1.5
-0.6
0.7
-2.1
1.5
-0.3
-1.0
3.8
-1.7
0.4
-0.8
-2.2
1.8
-0.5
0.9
-1.3
0.8
-0.5
1.8
-1.3
-0.2
2.0
-1.9
1.3
0.4
-1.1
2.7
-0.6
0.9
-2.2
1.1
-0.4
1.7
-1.6
0.2
1.5
0.5
-2.0
1.2
-1.4
0.3
2.1
-2.6
-0.1
1.3
-1.1
0.6
-1.9
2.5
-0.7
-1.6
0.9
-0.4
-2.4
1.7
0.0
-2.3
1.2
0.3
-0.9
2.2
-1.4
0.7
1.6
-2.0
0.5
-0.7
1.9
-1.1
2.4
-0.2
0.8
-2.6
1.3
0.6
-1.0
-1.5
2.6
-0.8
-1.2
0.4
-1.9
1.5
-0.3
-2.3
1.0
0.2
-1.4
1.9
-2.0
-0.6
2.2
-1.1
0.5
-1.8
1.3
1.3
0.4
-1.6
2.0
-0.6
1.1
-2.5
0.9
1.7
-0.8
0.2
-1.5
2.3
-1.2
0.7
1.4
-0.3
-2.1
1.6
0.4
-0.3
-1.0
1.7
-2.5
0.8
-0.4
2.8
-1.6
-0.9
1.1
-2.1
0.3
-0.7
1.8
-1.3
-0.2
1.2
-2.9
0.6
-1.1
0.9
-1.4
2.1
-0.6
1.3
-2.3
0.4
1.8
-1.0
2.6
-0.2
-1.7
1.1
0.5
-2.8
1.6
-0.4
2.2
-1.2
0.7
1.3
-0.6
-2.2
1.6
-1.1
0.5
-0.9
2.3
-1.7
-0.5
1.4
-2.4
0.7
-1.2
3.1
-0.8
-1.5
1.0
-0.3
-2.0
-0.3
1.9
-2.0
0.8
2.4
-1.1
0.2
-3.0
1.5
-0.5
1.0
2.9
-1.6
0.3
-0.9
1.7
-2.4
0.6
2.0
-1.3
-2.4
0.9
-0.2
-1.6
2.0
-0.7
-1.3
1.1
-0.5
-2.2
1.7
-0.1
0.6
-1.8
1.3
-2.6
0.4
-0.9
2.4
-1.0
1.4
-0.7
0.1
2.3
-1.8
1.2
-0.4
-2.6
0.9
1.6
-1.2
3.2
-0.8
0.5
-1.5
2.1
0.0
-2.1
1.3
-0.6
0.8
-1.7
1.2
-0.4
-2.7
1.9
-0.6
0.3
-1.5
1.0
-2.0
2.6
-1.1
-0.3
0.9
-1.4
1.6
-2.3
-0.5
1.5
2.2
-1.9
0.7
-0.2
1.8
-1.4
2.5
-0.9
0.4
-3.3
1.1
0.6
-1.0
2.0
-2.2
0.8
1.5
-0.3
-1.7
2.7
-1.0
2.2
-1.9
0.4
-0.8
1.3
-2.1
-0.6
1.8
-1.2
0.2
-2.5
1.4
-0.9
0.7
2.3
-1.6
-0.4
1.1
-2.2
-1.1
0.5
1.7
-2.5
0.9
-0.1
2.4
-1.3
1.0
-0.6
-2.0
1.9
0.3
-1.5
2.8
-0.7
1.2
-2.9
0.6
1.4
-0.5
-1.3
0.9
1.9
-2.4
-0.2
1.5
-1.7
0.6
-0.9
2.7
-1.4
-0.7
1.2
-2.1
0.3
-1.0
1.7
-2.8
0.8
0.2
-2.1
1.6
0.9
-1.2
2.0
-0.5
1.1
-3.6
0.7
2.3
-0.8
1.4
-1.9
0.1
2.6
-1.4
0.5
-0.3
1.8
1.7
-0.9
-1.4
0.7
-0.3
-2.0
2.1
-1.1
0.5
-1.6
1.3
-0.6
-2.3
0.9
1.6
-1.2
-0.4
2.5
-1.9
-0.1
-1.6
2.4
-0.2
1.0
-2.7
1.5
0.4
-0.9
2.2
-1.1
0.8
-1.8
3.0
-0.4
1.2
-2.3
0.6
1.9
-1.0
-0.2
-1.6
1.1
-0.7
-2.1
1.6
-0.2
0.8
-1.5
2.4
-1.0
-0.6
1.2
-1.8
0.3
-2.5
1.9
-0.8
0.6
-1.3
2.0
1.1
-0.6
2.7
-1.7
0.3
1.4
-2.2
0.9
-0.1
1.8
-1.3
0.5
2.1
-2.6
0.7
-0.8
1.6
-1.5
2.3
0.2
0.4
-2.3
1.5
-0.8
-1.2
2.8
-1.0
0.1
-1.9
1.4
-0.5
-2.2
0.8
1.7
-1.4
-0.3
1.0
-2.6
1.2
-0.6
-2.0
0.8
1.3
-0.5
2.0
-1.6
0.6
-0.2
1.7
-2.9
1.2
0.4
-1.1
2.5
-0.7
1.0
-2.0
0.3
1.5
-1.2
-0.8
0.5
-1.8
1.3
0.2
-2.0
1.9
-1.3
-0.4
1.1
-2.7
0.6
-0.9
2.2
-1.1
0.4
-1.7
1.6
-0.2
-1.5
0.7
1.6
-1.9
0.2
-0.8
2.3
-1.4
1.2
0.5
-2.4
1.9
-0.3
0.9
-1.6
2.8
-1.0
0.1
1.3
-2.7
0.8
2.3
-1.2
-0.3
0.9
-2.2
1.4
-0.7
-1.6
2.0
-0.5
0.7
-1.9
1.1
-2.4
0.2
-0.8
2.6
-1.3
-0.6
1.0
1.8
-1.0
0.4
-2.3
1.5
0.6
-0.7
2.1
-1.5
0.3
1.0
-3.8
1.7
-0.4
0.8
2.2
-1.8
0.5
-0.9
1.3
-1.3
-0.4
1.6
-2.0
0.6
-1.1
2.5
-0.9
-1.7
0.8
-0.2
1.5
-2.3
1.2
-0.7
-1.4
0.3
2.1
-1.6
-0.4
-0.5
2.0
-1.2
1.4
-0.3
-2.1
2.6
0.1
-1.3
1.1
-0.6
1.9
-2.5
0.7
1.6
-0.9
0.4
2.4
-1.7
0.0
-0.9
1.4
-2.1
0.6
-1.3
2.3
-0.4
-1.8
1.0
-2.6
0.2
1.7
-1.1
-0.5
2.8
-1.6
0.4
-2.2
1.2
-0.7
1.5
-2.6
0.8
1.2
-0.4
1.9
-1.5
0.3
2.3
-1.0
-0.2
1.4
-1.9
2.0
0.6
-2.2
1.1
-0.5
1.8
-1.3
0.3
-1.9
2.0
-0.8
-2.4
1.1
-0.2
3.0
-1.5
0.5
-1.0
-2.9
1.6
-0.3
0.9
-1.7
2.4
-0.6
-2.0
1.3
1.1
};
\addplot[spec line] coordinates {
(84938.3,0)(84938.5,-7.0)(84938.7,0)(84938.5,nan)
(84945.8,0)(84946.0,13.3)(84946.2,0)(84946.0,nan)
(84953.1,0)(84953.3,-7.6)(84953.5,0)(84953.3,nan)
(84966.7,0)(84966.9,7.8)(84967.1,0)(84966.9,nan)
(84973.6,0)(84974.0,-5.5)(84974.3,-6.1)(84974.7,0)(84974.3,nan)
};
\node[lab] at (axis cs:84945.96,15.1) {C$_2$H$_3$CN};
\node[lab] at (axis cs:84967.3,10.0) {$c$-C$_3$H$_2$O};
\end{axis}
\end{tikzpicture}
\end{document}
